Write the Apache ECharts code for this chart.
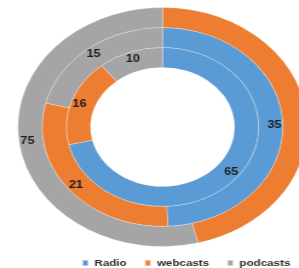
<!DOCTYPE html>
<html>
<head>
<meta charset="utf-8">
<script src="https://cdn.jsdelivr.net/npm/echarts@6/dist/echarts.min.js"></script>
<style>
  html, body { margin: 0; padding: 0; background: #fff; overflow: hidden; }
  #wrap { width: 299px; height: 268px; position: relative; overflow: hidden; }
  /* the original chart is stretched horizontally */
  #chart { width: 270px; height: 268px; transform: scaleX(1.21); transform-origin: 0 0; }
</style>
</head>
<body>
<div id="wrap"><div id="chart"></div></div>
<script>
// categories
const categories = ['Radio', 'webcasts', 'podcasts'];
const colors = ['#5B9BD5', '#ED7D31', '#A5A5A5'];

// ring values, inner to outer
const innerRing = [65, 16, 10];
const middleRing = [35, 21, 15];
const outerRing = [0, 64, 75];
// which slices carry a value label
const outerLabels = [false, false, true];

const chartDom = document.getElementById('chart');
const myChart = echarts.init(chartDom);

function ringData(values, labels) {
  const out = [];
  values.forEach((v, i) => {
    if (!v) return;
    out.push({
      name: categories[i],
      value: v,
      itemStyle: { color: colors[i] },
      label: { show: labels ? labels[i] : true }
    });
  });
  return out;
}

function ring(values, radius, labels) {
  return {
    type: 'pie',
    center: [134.3, 127],
    radius: radius,
    startAngle: 90,
    clockwise: true,
    silent: true,
    avoidLabelOverlap: false,
    itemStyle: { borderColor: 'rgba(255,255,255,0.5)', borderWidth: 0.5 },
    label: {
      position: 'inside',
      formatter: '{c}',
      color: '#1e1e1e',
      fontWeight: 'bold',
      fontSize: 10.5,
      fontFamily: 'Liberation Sans, Arial, sans-serif'
    },
    labelLine: { show: false },
    emphasis: { disabled: true },
    data: ringData(values, labels)
  };
}

const option = {
  animation: false,
  legend: {
    data: categories,
    left: 62,
    top: 253,
    icon: 'rect',
    itemWidth: 5,
    itemHeight: 6,
    itemGap: 14,
    selectedMode: false,
    textStyle: {
      color: '#2a2a2a',
      fontWeight: 'bold',
      fontSize: 9.6,
      fontFamily: 'Liberation Sans, Arial, sans-serif'
    }
  },
  series: [
    ring(innerRing, [59.5, 79.5]),
    ring(middleRing, [79.5, 99.5]),
    ring(outerRing, [99.5, 119.5], outerLabels)
  ]
};

myChart.setOption(option);
</script>
</body>
</html>
